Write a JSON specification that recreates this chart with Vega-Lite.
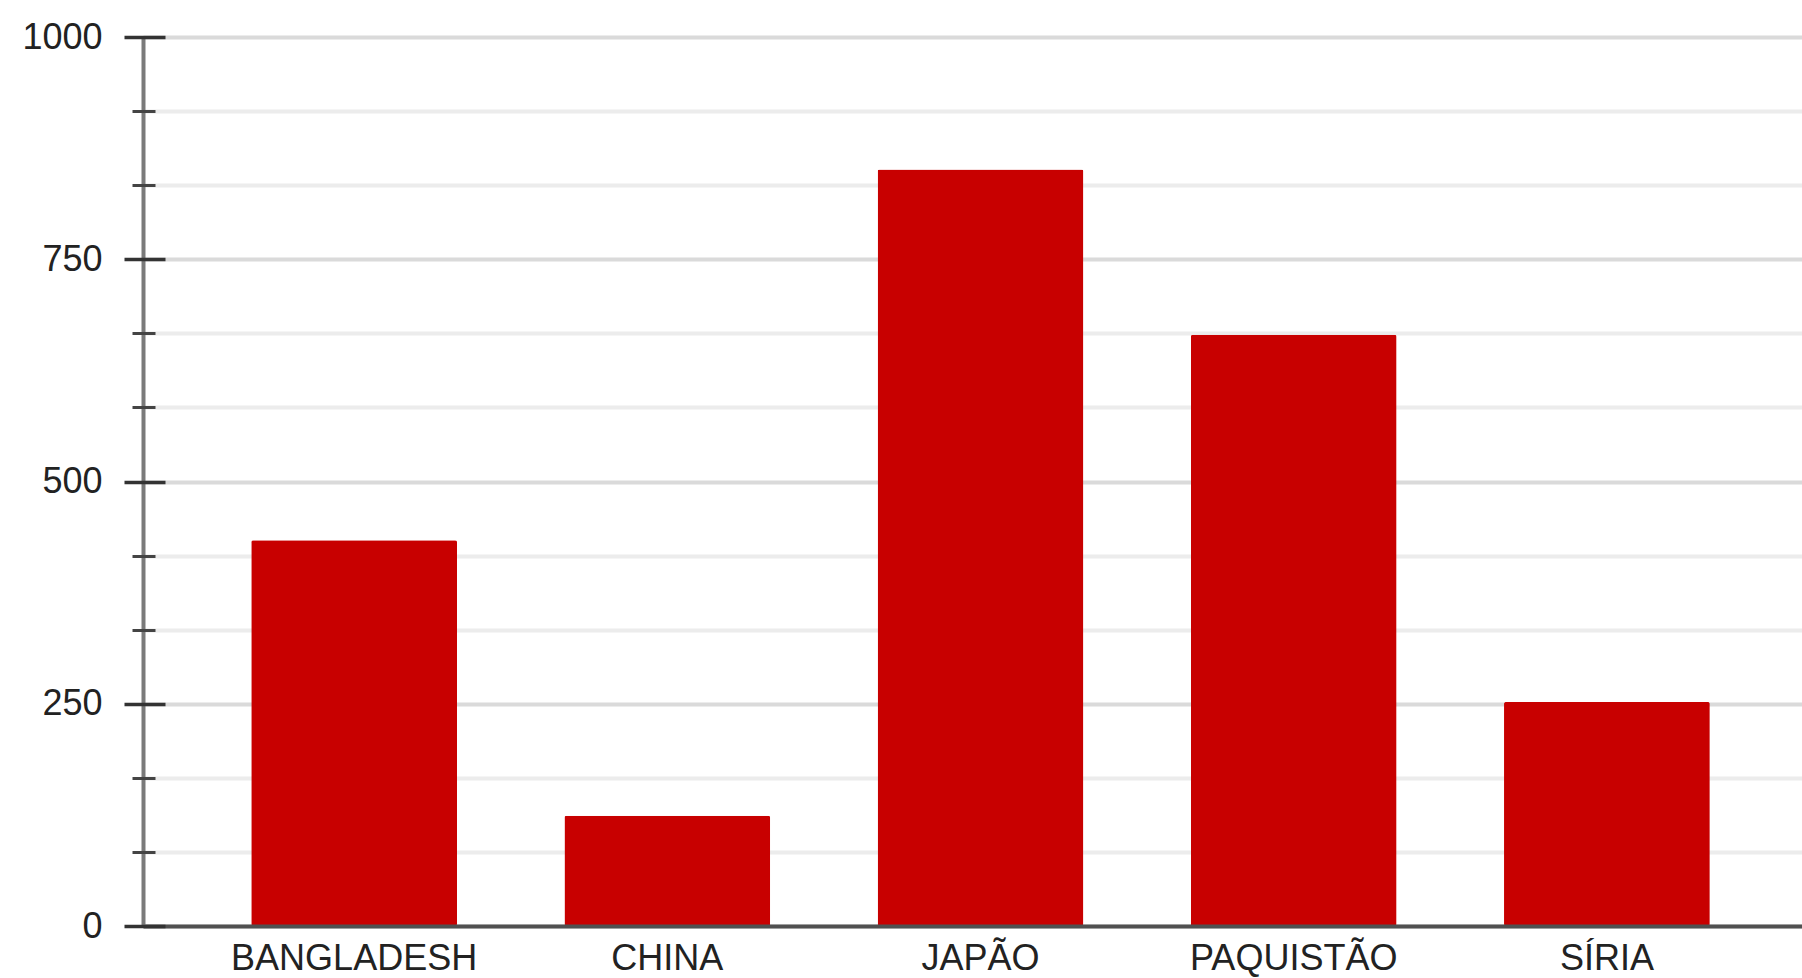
{
  "$schema": "https://vega.github.io/schema/vega-lite/v6.json",
  "width": 1659,
  "height": 889,
  "autosize": {"type": "none"},
  "padding": {"left": 143, "top": 37, "right": 0, "bottom": 52},
  "background": "white",
  "config": {"view": {"stroke": null}, "font": "Liberation Sans"},
  "data": {"values": [
    {"pais": "BANGLADESH", "valor": 434},
    {"pais": "CHINA", "valor": 124},
    {"pais": "JAPÃO", "valor": 851},
    {"pais": "PAQUISTÃO", "valor": 665},
    {"pais": "SÍRIA", "valor": 252}
  ]},
  "resolve": {"axis": {"y": "independent", "x": "independent"}},
  "layer": [
    {
      "mark": {"type": "bar", "fillOpacity": 0},
      "encoding": {
        "x": {"field": "pais", "type": "nominal", "sort": null, "axis": null,
              "scale": {"paddingInner": 0.343, "paddingOuter": 0.32, "align": 0.54}},
        "y": {"field": "valor", "type": "quantitative", "scale": {"domain": [0, 1000], "nice": false},
              "axis": {"orient": "left", "values": [83.333, 166.667, 333.333, 416.667, 583.333, 666.667, 833.333, 916.667],
                       "labels": false, "domain": false, "title": null, "ticks": false,
                       "grid": true, "gridColor": "#ececec", "gridWidth": 4, "zindex": 0}}
      }
    },
    {
      "mark": {"type": "bar", "fillOpacity": 0},
      "encoding": {
        "x": {"field": "pais", "type": "nominal", "sort": null, "axis": null},
        "y": {"field": "valor", "type": "quantitative",
              "axis": {"orient": "left", "values": [0, 250, 500, 750, 1000],
                       "labels": false, "domain": false, "title": null, "ticks": false,
                       "grid": true, "gridColor": "#dadada", "gridWidth": 4, "zindex": 0}}
      }
    },
    {
      "mark": {"type": "bar", "fillOpacity": 0},
      "encoding": {
        "x": {"field": "pais", "type": "nominal", "sort": null, "axis": null},
        "y": {"field": "valor", "type": "quantitative",
              "axis": {"orient": "left", "offset": -12, "values": [83.333, 166.667, 333.333, 416.667, 583.333, 666.667, 833.333, 916.667],
                       "labels": false, "domain": false, "title": null, "tickSize": 23, "tickWidth": 3, "tickColor": "#444444",
                       "grid": false, "zindex": 2}}
      }
    },
    {
      "mark": {"type": "bar", "fillOpacity": 0},
      "encoding": {
        "x": {"field": "pais", "type": "nominal", "sort": null, "axis": null},
        "y": {"field": "valor", "type": "quantitative",
              "axis": {"orient": "left", "offset": -22, "values": [0, 250, 500, 750, 1000],
                       "labels": false, "domain": false, "title": null, "tickSize": 41, "tickWidth": 3.5, "tickColor": "#333333",
                       "grid": false, "zindex": 2}}
      }
    },
    {
      "mark": {"type": "bar", "color": "#c80000", "cornerRadius": 2},
      "encoding": {
        "x": {"field": "pais", "type": "nominal", "sort": null,
              "axis": {"orient": "bottom", "title": null, "labelAngle": 0, "ticks": false, "labelPadding": 15, "labelLimit": 0,
                       "labelFont": "Liberation Sans", "labelFontSize": 36, "labelColor": "#222222",
                       "domainColor": "#505050", "domainWidth": 4, "zindex": 1}},
        "y": {"field": "valor", "type": "quantitative",
              "axis": {"orient": "left", "values": [0, 250, 500, 750, 1000], "title": null, "format": "d",
                       "tickSize": 19, "tickOpacity": 0,
                       "labelPadding": 22, "labelFont": "Liberation Sans", "labelFontSize": 36, "labelColor": "#222222",
                       "domainColor": "#7a7a7a", "domainWidth": 4, "grid": false, "zindex": 1}}
      }
    }
  ]
}
